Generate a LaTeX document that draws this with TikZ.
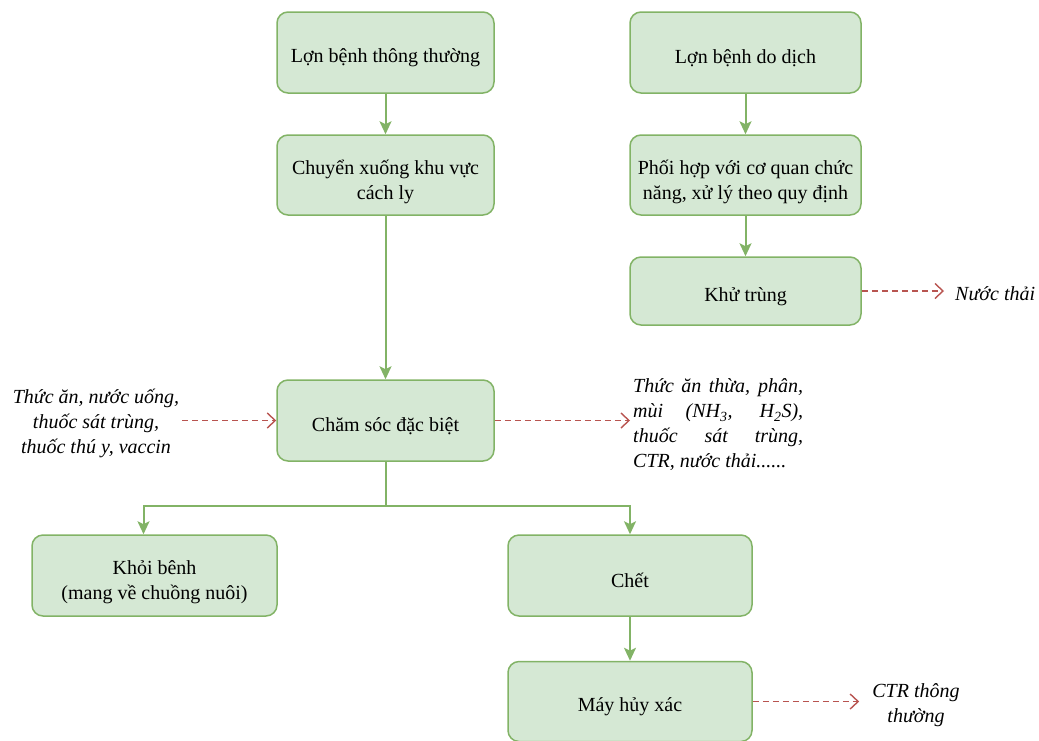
\documentclass[tikz,border=0pt]{standalone}
\usepackage{fontspec}
\setmainfont{Liberation Serif}
\usetikzlibrary{arrows.meta}
\definecolor{boxfill}{HTML}{D5E8D4}
\definecolor{boxline}{HTML}{82B366}
\definecolor{wasteline}{HTML}{B85450}

\begin{document}
\begin{tikzpicture}[x=1pt,y=1pt,
    box/.style={draw=boxline,fill=boxfill,line width=1.5pt,rounded corners=11pt,
      align=center,inner sep=0pt,font=\fontsize{20}{25}\selectfont},
    oneline/.style={execute at begin node={\rule{0pt}{25pt}}},
    twoline/.style={text height=52pt,text depth=4pt},
    flow/.style={draw=boxline,line width=2pt,
      -{Stealth[length=13pt,width=12pt,inset=3pt,fill=boxline]}},
    waste/.style={draw=wasteline,line width=1.4pt,dash pattern=on 6pt off 4pt,
      -{Straight Barb[length=8pt,width=15pt]}},
    note/.style={align=center,inner sep=3pt,font=\fontsize{20}{25}\selectfont\itshape}]
  \useasboundingbox (0,0) rectangle (1039,-740);

  % left column
  \node[box,oneline,minimum width=217,minimum height=81] (thuong) at (385.5,-52.5) {Lợn bệnh thông thường};
  \node[box,twoline,minimum width=217,minimum height=80] (cachly) at (385.5,-175) {Chuyển xuống khu vực\\cách ly};
  \node[box,oneline,minimum width=217,minimum height=81] (chamsoc) at (385.5,-420.5) {Chăm sóc đặc biệt};
  \node[box,twoline,minimum width=245,minimum height=81] (khoi) at (154.5,-575.5) {Khỏi bênh\\(mang về chuồng nuôi)};
  \node[box,oneline,minimum width=244,minimum height=81] (chet) at (630,-575.5) {Chết};
  \node[box,oneline,minimum width=244,minimum height=80] (huyxac) at (630,-701.5) {Máy hủy xác};

  % right column
  \node[box,oneline,minimum width=231,minimum height=81] (dich) at (745.5,-52.5) {Lợn bệnh do dịch};
  \node[box,twoline,minimum width=231,minimum height=80] (phoihop) at (745.5,-175) {Phối hợp với cơ quan chức\\năng, xử lý theo quy định};
  \node[box,oneline,minimum width=231,minimum height=68] (khutrung) at (745.5,-291) {Khử trùng};

  % inputs and outputs
  \node[note] (dauvao) at (96,-423) {Thức ăn, nước uống,\\thuốc sát trùng,\\thuốc thú y, vaccin};
  \node[note,align=left,anchor=west] (chatthai) at (630,-425) {%
    \makebox[170pt][s]{Thức ăn thừa, phân,}\\
    \makebox[170pt][s]{mùi (NH\textsubscript{3}, H\textsubscript{2}S),}\\
    \makebox[170pt][s]{thuốc sát trùng,}\\
    CTR, nước thải......};
  \node[note,anchor=west] (nuocthai) at (952,-294) {Nước thải};
  \node[note] (ctr) at (916,-705) {CTR thông\\thường};

  \draw[flow] (thuong) -- (cachly);
  \draw[flow] (cachly) -- (chamsoc);
  \draw[flow] (dich) -- (phoihop);
  \draw[flow] (phoihop) -- (khutrung);
  \draw[flow] (chamsoc.south) -- ++(0,-44) -| ([xshift=-11pt]khoi.north);
  \draw[flow] (chamsoc.south) -- ++(0,-44) -| (chet.north);
  \draw[flow] (chet) -- (huyxac);

  \draw[waste] (chamsoc.west -| dauvao.east) -- (chamsoc.west);
  \draw[waste] (chamsoc.east) -- (chamsoc.east -| chatthai.west);
  \draw[waste,shorten >=8pt] (khutrung.east) -- (khutrung.east -| nuocthai.west);
  \draw[waste,shorten >=10pt] (huyxac.east) -- (huyxac.east -| ctr.west);
\end{tikzpicture}
\end{document}
